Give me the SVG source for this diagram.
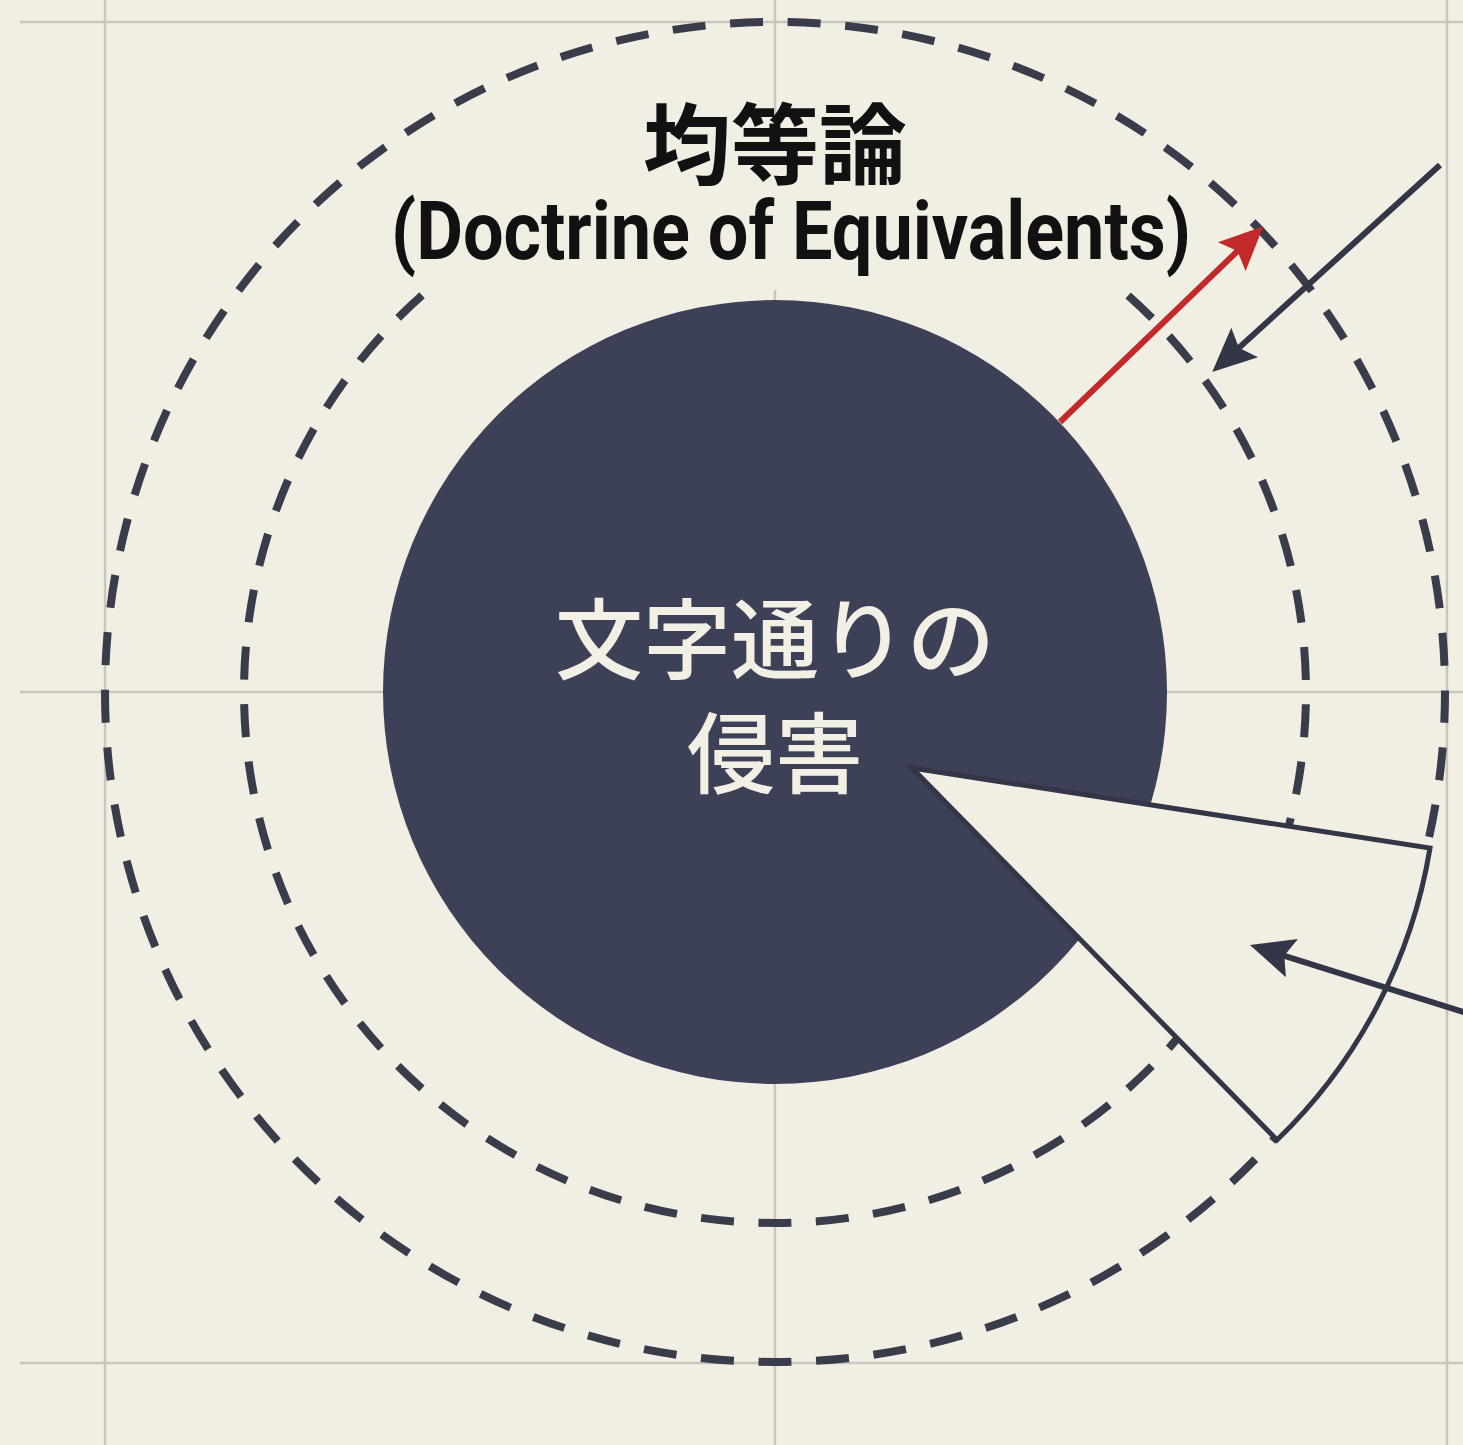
<svg xmlns="http://www.w3.org/2000/svg" width="1463" height="1445" viewBox="0 0 1463 1445">
  <style>
    .grid { stroke: #c9c7bc; stroke-width: 2.5; fill: none; }
    .ring { fill: none; stroke: #393c4a; stroke-width: 8; }
    .conn { fill: none; stroke: #333646; stroke-width: 6; }
    .red { fill: none; stroke: #c2292b; stroke-width: 6; }
    .cjk { font-family: "Noto Sans CJK JP", "Noto Sans", sans-serif; text-anchor: middle; }
    .en { font-family: Roboto, "Liberation Sans", sans-serif; font-weight: 700; text-anchor: middle; }
  </style>
  <defs>
    <marker id="headDark" viewBox="0 0 44 40" refX="24" refY="20" markerWidth="44" markerHeight="40" markerUnits="userSpaceOnUse" orient="auto">
      <path d="M0,0 L44,20 L0,40 L8,20 Z" fill="#333646"/>
    </marker>
    <marker id="headRed" viewBox="0 0 44 40" refX="24" refY="20" markerWidth="44" markerHeight="40" markerUnits="userSpaceOnUse" orient="auto">
      <path d="M0,0 L44,20 L0,40 L8,20 Z" fill="#c2292b"/>
    </marker>
  </defs>

  <rect x="0" y="0" width="1463" height="1445" fill="#f1efe3"/>

  <g id="grid" class="grid">
    <line x1="105" y1="0" x2="105" y2="1445"/>
    <line x1="775" y1="0" x2="775" y2="1445"/>
    <line x1="1447" y1="0" x2="1447" y2="1445"/>
    <line x1="20" y1="22" x2="1463" y2="22"/>
    <line x1="20" y1="692" x2="1463" y2="692"/>
    <line x1="20" y1="1363" x2="1463" y2="1363"/>
  </g>

  <g id="outer-ring">
    <circle class="ring" cx="775" cy="692" r="670" stroke-dasharray="33 24.67" stroke-dashoffset="2.2"/>
  </g>
  <g id="inner-ring">
    <circle class="ring" cx="775" cy="692" r="531" stroke-dasharray="33 24.52" stroke-dashoffset="45.2"/>
  </g>

  <g id="title">
    <rect x="560" y="150" width="430" height="48" fill="#f1efe3"/>
    <rect x="385" y="198" width="815" height="92" fill="#f1efe3"/>
    <text class="cjk" x="775" y="177" font-size="88" font-weight="700" fill="#111111">均等論</text>
    <text class="en" x="791" y="259" font-size="82" fill="#111111" textLength="800" lengthAdjust="spacingAndGlyphs">(Doctrine of Equivalents)</text>
  </g>

  <g id="literal-infringement">
    <circle cx="775" cy="692" r="392" fill="#3d4157"/>
    <text class="cjk" x="775" y="672" font-size="88" font-weight="500" fill="#f2f0e4">文字通りの</text>
    <text class="cjk" x="775" y="786" font-size="88" font-weight="500" fill="#f2f0e4">侵害</text>
  </g>

  <g id="wedge">
    <path d="M912,768 L1430,848 A523,523 0 0,1 1277,1140 Z" fill="#f1efe3" stroke="#333646" stroke-width="5" stroke-linejoin="miter"/>
  </g>

  <g id="connectors">
    <line class="red" x1="1060" y1="422" x2="1249" y2="240" marker-end="url(#headRed)"/>
    <line class="conn" x1="1440" y1="165" x2="1227" y2="358.6" marker-end="url(#headDark)"/>
    <line class="conn" x1="1470" y1="1014" x2="1269" y2="951" marker-end="url(#headDark)"/>
  </g>
</svg>
